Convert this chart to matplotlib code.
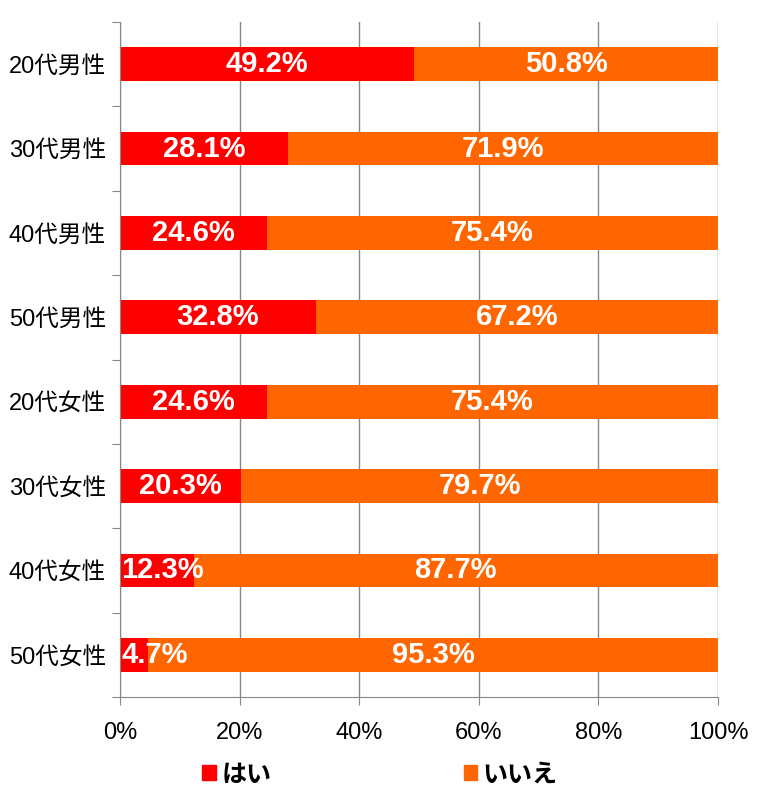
import matplotlib
matplotlib.use("Agg")
import matplotlib.pyplot as plt
from matplotlib.patches import Patch
import numpy as np

plt.rcParams['font.family'] = ['Liberation Sans', 'Noto Sans CJK JP', 'DejaVu Sans']

categories = ["20代男性", "30代男性", "40代男性", "50代男性",
              "20代女性", "30代女性", "40代女性", "50代女性"]
hai = [49.2, 28.1, 24.6, 32.8, 24.6, 20.3, 12.3, 4.7]
iie = [50.8, 71.9, 75.4, 67.2, 75.4, 79.7, 87.7, 95.3]
series_names = ["はい", "いいえ"]
colors = ["#FF0000", "#FF6600"]

fig = plt.figure(figsize=(7.66, 8.02), dpi=100)
ax = fig.add_axes([120 / 766, 1 - 697 / 802, 598 / 766, 675 / 802])

y = np.arange(len(categories))
ax.barh(y, hai, height=0.4, color=colors[0], zorder=2)
ax.barh(y, iie, left=hai, height=0.4, color=colors[1], zorder=2)

ax.set_xlim(0, 100)
ax.set_ylim(len(categories) - 0.5, -0.5)

label_font = dict(fontweight='bold', fontsize=21, color='white')
hai_texts = []
for i in range(len(categories)):
    t = ax.text(hai[i] / 2, y[i], f"{hai[i]:.1f}%", ha='center', va='center',
                zorder=3, **label_font)
    hai_texts.append(t)
    ax.text(hai[i] + iie[i] / 2, y[i], f"{iie[i]:.1f}%", ha='center',
            va='center', zorder=3, **label_font)

# keep labels from running past the left edge of the plot
fig.canvas.draw()
renderer = fig.canvas.get_renderer()
x0_px = ax.transData.transform((0, 0))[0]
for t in hai_texts:
    bb = t.get_window_extent(renderer)
    if bb.x0 < x0_px + 1:
        t.set_ha('left')
        t.set_x(0.2)

ax.set_xticks([0, 20, 40, 60, 80, 100])
ax.set_xticklabels(["0%", "20%", "40%", "60%", "80%", "100%"], fontsize=17)
ax.set_yticks(np.arange(len(categories) + 1) - 0.5)
ax.set_yticklabels([])
ax.set_yticks(y, minor=True)
ax.set_yticklabels(categories, minor=True, fontsize=17)
ax.tick_params(axis='y', which='minor', length=0, pad=10)
ax.tick_params(axis='y', which='major', length=6, color='#888888')
ax.tick_params(axis='x', length=6, color='#888888', pad=12)
ax.grid(axis='x', color='#888888', linewidth=1, zorder=0)

for side in ['top', 'right']:
    ax.spines[side].set_visible(False)
for side in ['left', 'bottom']:
    ax.spines[side].set_color('#888888')

handles = [Patch(color=c, label=n) for c, n in zip(colors, series_names)]
fig.legend(handles=handles, loc='center', bbox_to_anchor=(0.496, 0.034),
           ncol=2, frameon=False, handlelength=0.55,
           handleheight=0.55, handletextpad=0.2, columnspacing=7.7,
           prop={'weight': 'bold', 'size': 18})

fig.savefig("out.png", dpi=100)
